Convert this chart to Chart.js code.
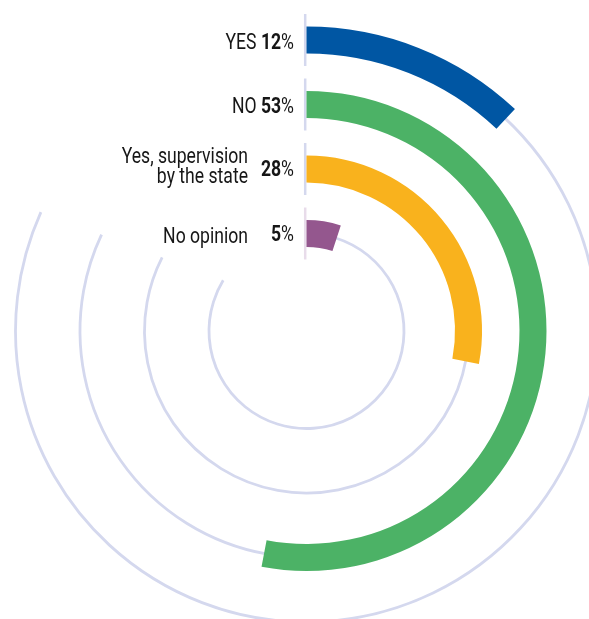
<!DOCTYPE html>
<html>
<head>
<meta charset="utf-8">
<script src="https://cdn.jsdelivr.net/npm/chart.js@4/dist/chart.umd.min.js"></script>
<style>
  html, body { margin: 0; padding: 0; background: #ffffff; }
  #wrap { position: relative; width: 589px; height: 619px; }
</style>
</head>
<body>
<div id="wrap"><canvas id="c"></canvas></div>
<script>
// ---- data ----
const CATEGORIES = ['YES', 'NO', 'Yes, supervision\nby the state', 'No opinion'];
const VALUES = [12, 53, 28, 5];
const COLORS = ['#0056a3', '#4cb266', '#f9b21d', '#94578e'];

// ---- style ----
const TRACK_COLOR = '#d4d8ee';
const SEGMENT_COLORS = ['#d4d8ee', '#d4d8ee', '#d4d8ee', '#e8dcea'];
const TRACK_END_PCT = [81.7, 82.0, 82.5, 83.7];
const INLINE_LABEL = [true, true, false, false];
const BAND = 27, GAP = 37.5, OUTER_R = 304.5, INNER_R = 84;
const TEXT_COLOR = '#161616';

function hasFont(name) {
  const c = document.createElement('canvas').getContext('2d');
  const s = 'abcdefghijklmnopqrstuvwxyz YES 0123456789';
  c.font = '40px monospace';
  const a = c.measureText(s).width;
  c.font = '40px "' + name + '", monospace';
  const b = c.measureText(s).width;
  return Math.abs(a - b) > 0.5;
}
const NARROW = hasFont('Liberation Sans Narrow');
const FAMILY = NARROW ? '"Liberation Sans Narrow"' : 'Roboto';
const FS = NARROW ? 21 : 22;
const SX = NARROW ? 1 : 0.80;

const datasets = [];
VALUES.forEach((v, i) => {
  datasets.push({
    data: [v, 100 - v],
    backgroundColor: [COLORS[i], 'rgba(0,0,0,0)'],
    borderWidth: 0,
    hoverOffset: 0,
    weight: BAND,
    ring: i
  });
  if (i < VALUES.length - 1) {
    datasets.push({
      data: [100],
      backgroundColor: ['rgba(0,0,0,0)'],
      borderWidth: 0,
      hoverOffset: 0,
      weight: GAP,
      ring: -1
    });
  }
});

function ringArcs(chart) {
  const out = [];
  chart.data.datasets.forEach((ds, di) => {
    if (ds.ring >= 0) out.push({ ring: ds.ring, arc: chart.getDatasetMeta(di).data[0] });
  });
  return out;
}

const tracksPlugin = {
  id: 'tracks',
  beforeDatasetsDraw(chart) {
    const ctx = chart.ctx;
    ctx.save();
    ringArcs(chart).forEach(({ ring, arc }) => {
      const r = (arc.innerRadius + arc.outerRadius) / 2;
      const end = arc.startAngle + TRACK_END_PCT[ring] / 100 * Math.PI * 2;
      ctx.beginPath();
      ctx.strokeStyle = TRACK_COLOR;
      ctx.lineWidth = 2.8;
      ctx.lineCap = 'butt';
      ctx.arc(arc.x, arc.y, r, arc.endAngle - 0.01, end);
      ctx.stroke();
      // separator segment at the start
      const cy = arc.y - r;
      ctx.beginPath();
      ctx.strokeStyle = SEGMENT_COLORS[ring];
      ctx.lineWidth = 2.5;
      ctx.moveTo(arc.x - 1.3, cy - 26);
      ctx.lineTo(arc.x - 1.3, cy + 26);
      ctx.stroke();
    });
    ctx.restore();
  }
};

function drawRuns(ctx, runs, right, y) {
  ctx.save();
  ctx.translate(right, y);
  ctx.scale(SX, 1);
  let x = 0;
  for (let k = runs.length - 1; k >= 0; k--) {
    const run = runs[k];
    ctx.font = (run.bold ? 'bold ' : '') + FS + 'px ' + FAMILY;
    const w = ctx.measureText(run.text).width;
    x -= w;
    ctx.textAlign = 'left';
    ctx.fillText(run.text, x, 0);
  }
  ctx.restore();
}

const labelsPlugin = {
  id: 'labels',
  afterDatasetsDraw(chart) {
    const ctx = chart.ctx;
    ctx.save();
    ctx.fillStyle = TEXT_COLOR;
    ctx.textBaseline = 'alphabetic';
    ringArcs(chart).forEach(({ ring, arc }) => {
      const r = (arc.innerRadius + arc.outerRadius) / 2;
      const cy = arc.y - r;
      const right = arc.x - 12.5;
      const lines = CATEGORIES[ring].split('\n');
      const valRuns = [{ text: String(VALUES[ring]), bold: true }, { text: '%', bold: false }];
      if (INLINE_LABEL[ring]) {
        drawRuns(ctx, [{ text: lines.join(' ') + ' ', bold: false }].concat(valRuns), right, cy + 8.5);
      } else {
        drawRuns(ctx, valRuns, right, cy + 7);
        const n = lines.length;
        lines.forEach((ln, li) => {
          const base = n === 1 ? cy + 9.5 : cy + 4 + (li - (n - 1) / 2) * 20;
          drawRuns(ctx, [{ text: ln, bold: false }], arc.x - 58.5, base);
        });
      }
    });
    ctx.restore();
  }
};

new Chart(document.getElementById('c'), {
  type: 'doughnut',
  data: { labels: ['value', 'rest'], datasets },
  options: {
    responsive: true,
    maintainAspectRatio: false,
    animation: false,
    events: [],
    rotation: 0,
    circumference: 360,
    radius: OUTER_R,
    cutout: (INNER_R / OUTER_R * 100) + '%',
    layout: { padding: { left: 24, top: 43, right: 0, bottom: 0 } },
    plugins: { legend: { display: false }, tooltip: { enabled: false } }
  },
  plugins: [tracksPlugin, labelsPlugin]
});
</script>
</body>
</html>
